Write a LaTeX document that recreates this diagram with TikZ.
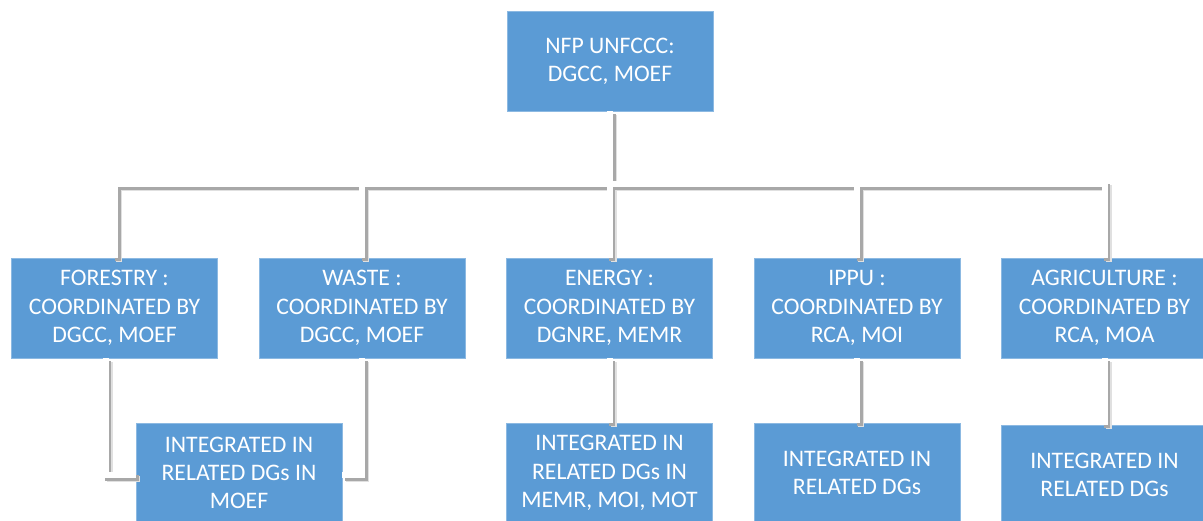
\documentclass[tikz,border=0pt]{standalone}
\usepackage{fontspec}
\setmainfont{Carlito}
\definecolor{boxblue}{RGB}{91,155,213}
\begin{document}
\begin{tikzpicture}[x=1pt,y=-1pt,
  orgbox/.style={fill=boxblue,draw=boxblue!70!white,line width=0.6pt,text=white,minimum width=206pt,minimum height=100pt,inner sep=0pt,align=center,font=\fontsize{23.7}{28.3}\selectfont},
  softshadow/.style={draw=black!12,line width=6pt,line join=miter,transform canvas={shift={(4pt,-4pt)}}},
  shadowline/.style={draw=black!34,line width=6pt,line join=miter,transform canvas={shift={(2.8pt,-2.8pt)}}},
  whiteline/.style={draw=white,line width=6pt,line join=miter}]
\useasboundingbox (0,0) rectangle (1203,520);
\clip (0,0) rectangle (1203,520);
\node[orgbox] (top) at (610,61) {NFP UNFCCC:\\DGCC, MOEF};
\node[orgbox] (forestry) at (114.5,308) {FORESTRY :\\COORDINATED BY\\DGCC, MOEF};
\node[orgbox] (waste) at (362,308) {WASTE :\\COORDINATED BY\\DGCC, MOEF};
\node[orgbox] (energy) at (609.5,308) {ENERGY :\\COORDINATED BY\\DGNRE, MEMR};
\node[orgbox] (ippu) at (857,308) {IPPU :\\COORDINATED BY\\RCA, MOI};
\node[orgbox] (agri) at (1104.5,308) {AGRICULTURE :\\COORDINATED BY\\RCA, MOA};
\node[orgbox] (fint) at (239,473) {INTEGRATED IN\\RELATED DGs IN\\MOEF};
\node[orgbox] (eint) at (609.5,473) {INTEGRATED IN\\RELATED DGs IN\\MEMR, MOI, MOT};
\node[orgbox] (iint) at (857,473) {INTEGRATED IN\\RELATED DGs};
\node[orgbox] (aint) at (1104.5,475) {INTEGRATED IN\\RELATED DGs};
\coordinate (bus) at (610,184);
\coordinate (fdrop) at (105.5,358);
\foreach \sty in {softshadow,shadowline,whiteline}{
  \draw[\sty] (top.south) -- (bus);
  \draw[\sty] (forestry.north -| 115,0) |- (bus) -| (agri.north);
  \draw[\sty] (waste.north) -- (waste.north |- bus);
  \draw[\sty] (energy.north) -- (energy.north |- bus);
  \draw[\sty] (ippu.north) -- (ippu.north |- bus);
  \draw[\sty] (fdrop) |- ([yshift=-2pt]fint.west);
  \draw[\sty] (waste.south) |- ([yshift=-2pt]fint.east);
  \draw[\sty] (energy.south) -- (eint.north);
  \draw[\sty] (ippu.south) -- (iint.north);
  \draw[\sty] (agri.south) -- (aint.north);
}
\end{tikzpicture}
\end{document}
